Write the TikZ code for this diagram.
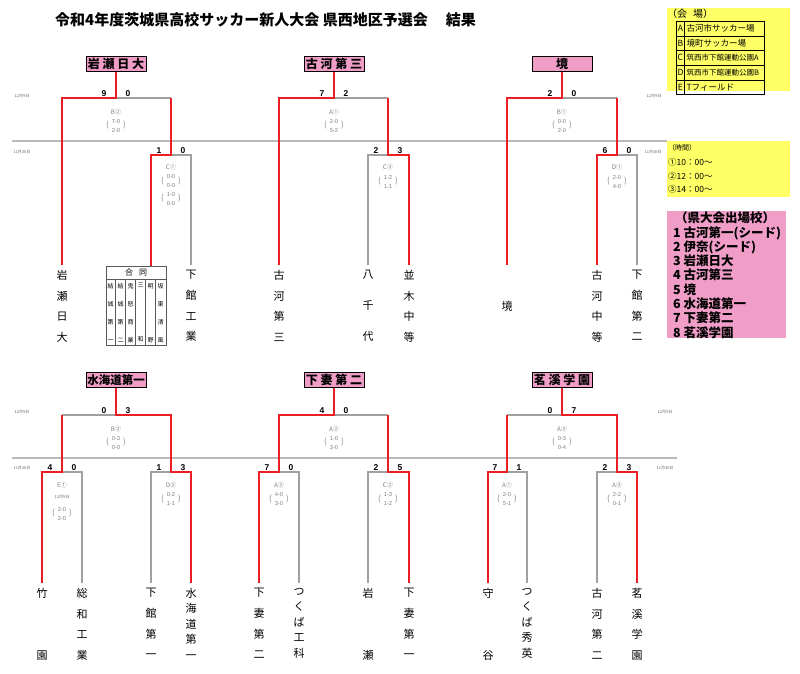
\documentclass[tikz,border=0pt]{standalone}
\usepackage{fontspec}
\setmainfont{Noto Sans CJK JP}
\newfontfamily\num{Liberation Sans}
\usetikzlibrary{positioning}
\definecolor{winred}{RGB}{235,30,35}
\definecolor{losegray}{RGB}{160,160,160}
\definecolor{boxpink}{RGB}{240,158,200}
\definecolor{noteyellow}{RGB}{255,255,102}
\newcommand{\fsz}[2]{\fontsize{#1}{#2}\selectfont}
\newcommand{\gp}{\phantom{中}}
\newcommand{\matchres}[2]{{\fsz{8}{8}(}\hspace{3pt}{\num\fsz{5.8}{8.6}\begin{tabular}{@{}c@{}}#1\\#2\end{tabular}}\hspace{3pt}{\fsz{8}{8})}}
\tikzset{
win/.style={draw=winred, line width=1.6pt}, % path of the team that won
lose/.style={draw=losegray, line width=1.2pt}, % path of the team that lost
champ/.style={draw, line width=1pt, fill=boxpink, minimum width=60pt, minimum height=15pt, inner sep=1pt, font=\bfseries\fsz{12}{12}}, % block winner
team/.style={anchor=north, inner xsep=0pt, inner ysep=5pt, align=center}, % school names, read top to bottom
team4/.style={team, font=\fsz{11}{20.7}},
team5/.style={team, font=\fsz{11}{15.5}},
score/.style={anchor=base, inner sep=0pt, font=\num\bfseries\fsz{8.5}{8.5}},
info/.style={inner sep=0pt, text=gray, font=\fsz{6.2}{6.8}}, % ground, kick-off and half scores
date/.style={inner sep=0pt, text=gray!80!black, font=\fsz{4}{4}},
sepline/.style={draw=gray!55, line width=1.2pt},
}

\begin{document}
\begin{tikzpicture}[x=1pt, y=-1pt]
    \useasboundingbox (0,0) rectangle (800,673);

    \node[anchor=west, inner sep=0pt, font=\bfseries\fsz{15}{15}] (title) at (55,20)
    {令和4年度茨城県高校サッカー新人大会 県西地区予選会\hspace{1.2em}結果};

    % legend boxes
    \node[fill=noteyellow, anchor=north west, minimum width=123pt, minimum height=83pt, inner sep=0pt] (venuebg) at (667,8) {};
    \node[anchor=west, inner sep=0pt, font=\fsz{10}{10}] (venuehead) at (667,14) {（会\hspace{0.6em}場）};
    \setlength{\arrayrulewidth}{0.6pt}
    \node[anchor=north west, inner sep=0pt, font=\fsz{8.5}{14}] (venue) at (676,21) {%
    \begin{tabular}{|@{\hspace{1pt}}c@{\hspace{1pt}}|@{\hspace{2pt}}p{78pt}@{}|}\hline
    A & 古河市サッカー場\\\hline
    B & 境町サッカー場\\\hline
    C & {\fsz{7.5}{14}筑西市下館運動公園A}\\\hline
    D & {\fsz{7.5}{14}筑西市下館運動公園B}\\\hline
    E & Tフィールド\\\hline
    \end{tabular}};

    \node[fill=noteyellow, anchor=north west, minimum width=123pt, minimum height=56pt, inner sep=0pt] (timebg) at (667,141) {};
    \node[anchor=west, inner sep=0pt, font=\fsz{7}{7}] (timehead) at (668,148) {（時間）};
    \node[anchor=west, inner sep=0pt, font=\fsz{8.5}{8.5}] (time1) at (668,162) {①10：00～};
    \node[anchor=west, inner sep=0pt, font=\fsz{8.5}{8.5}] (time2) at (668,176) {②12：00～};
    \node[anchor=west, inner sep=0pt, font=\fsz{8.5}{8.5}] (time3) at (668,189.5) {③14：00～};

    \node[fill=boxpink, anchor=north west, minimum width=119pt, minimum height=127pt, inner sep=0pt] (entrybg) at (667,211) {};
    \node[inner sep=0pt, font=\bfseries\fsz{12.5}{12.5}] (entryhead) at (725,218) {（県大会出場校）};
    \node[anchor=north west, inner sep=0pt, align=left, font=\bfseries\fsz{12.5}{14.3}] (entries) at (673,226)
    {1 古河第一(シード)\\2 伊奈(シード)\\3 岩瀬日大\\4 古河第三\\5 境\\6 水海道第一\\7 下妻第二\\8 茗溪学園};

    % day lines
    \draw[sepline] (12,141) -- (timebg.north west);
    \draw[sepline] (12,458) -- (677,458);
    \node[date] (d1) at (22,96) {12月9日};
    \node[date] (d2) at (22,152) {11月30日};
    \node[date] (d3) at (654,96) {12月9日};
    \node[date] (d4) at (653,152) {11月30日};
    \node[date] (d5) at (22,412) {12月9日};
    \node[date] (d6) at (22,468) {11月30日};
    \node[date] (d7) at (665,412) {12月9日};
    \node[date] (d8) at (665,468) {11月30日};

    % block winners
    \node[champ] (w1) at (116,63.5) {岩 瀬 日 大};
    \node[champ] (w2) at (334,63.5) {古 河 第 三};
    \node[champ] (w3) at (562,63.5) {境};
    \node[champ, font=\bfseries\fsz{11.5}{11.5}] (w4) at (116,380) {水海道第一};
    \node[champ] (w5) at (334,380) {下 妻 第 二};
    \node[champ] (w6) at (562,380) {茗 溪 学 園};

    % schools, upper half
    \node[team4] (iwasenichidai) at (62,265) {岩\\瀬\\日\\大};
    \node[draw=gray!70!black, line width=0.8pt, anchor=north, minimum width=60pt, minimum height=79pt, inner sep=0pt] (godo) at (136,266) {};
    \draw[gray!70!black, line width=0.6pt] ([yshift=-13pt]godo.north west) -- ([yshift=-13pt]godo.north east);
    \foreach \i in {1,...,5}
        \draw[gray!70!black, line width=0.6pt] ([xshift=\i*10pt, yshift=-13pt]godo.north west) -- ([xshift=\i*10pt]godo.south west);
    \node[inner sep=0pt, font=\fsz{8}{8}] (godo-head) at ([yshift=-6.5pt]godo.north) {合\hspace{6pt}同};
    \foreach \c [count=\i] in {{結\\城\\第\\一}, {結\\城\\第\\二}, {鬼\\怒\\商\\業}, {三\\\gp\\\gp\\和}, {明\\\gp\\\gp\\野}, {坂\\東\\清\\風}}
        \node[anchor=north, inner sep=0pt, align=center, font=\fsz{6}{18}] (godo-\i) at ([xshift=\i*10pt-5pt, yshift=-17.3pt]godo.north west) {\c};
    \node[team4] (shimokanko) at (191,265) {下\\館\\工\\業};
    \node[team4] (koga3) at (279,265) {古\\河\\第\\三};
    \node[team5] (yachiyo) at (368,265) {八\\\gp\\千\\\gp\\代};
    \node[team4] (namiki) at (409,265) {並\\木\\中\\等};
    \node[team5] (sakai) at (507,265) {\gp\\\gp\\境};
    \node[team4] (kogachu) at (597,265) {古\\河\\中\\等};
    \node[team4] (shimokan2) at (637,265) {下\\館\\第\\二};

    % schools, lower half
    \node[team4] (takezono) at (42,583) {竹\\\gp\\\gp\\園};
    \node[team4] (sowa) at (82,583) {総\\和\\工\\業};
    \node[team4] (shimokan1) at (151,583) {下\\館\\第\\一};
    \node[team5] (mitsukaido) at (191,583) {水\\海\\道\\第\\一};
    \node[team4] (shimotsuma2) at (259,583) {下\\妻\\第\\二};
    \node[team5] (tsukubakoka) at (299,583) {つ\\く\\ば\\工\\科};
    \node[team4] (iwase) at (368,583) {岩\\\gp\\\gp\\瀬};
    \node[team4] (shimotsuma1) at (409,583) {下\\妻\\第\\一};
    \node[team4] (moriya) at (488,583) {守\\\gp\\\gp\\谷};
    \node[team5] (tsukubashuei) at (527,583) {つ\\く\\ば\\秀\\英};
    \node[team4] (koga2) at (597,583) {古\\河\\第\\二};
    \node[team4] (meikei) at (637,583) {茗\\溪\\学\\園};

    % bracket corners
    \coordinate (j1) at (116,98);  \coordinate (l1) at (62,98);  \coordinate (r1) at (171,98);
    \coordinate (s1) at (171,155); \coordinate (s1l) at (151,155); \coordinate (s1r) at (191,155);
    \coordinate (j2) at (334,98);  \coordinate (l2) at (279,98); \coordinate (r2) at (388,98);
    \coordinate (s2) at (388,155); \coordinate (s2l) at (368,155); \coordinate (s2r) at (409,155);
    \coordinate (j3) at (562,98);  \coordinate (l3) at (507,98); \coordinate (r3) at (617,98);
    \coordinate (s3) at (617,155); \coordinate (s3l) at (597,155); \coordinate (s3r) at (637,155);
    \coordinate (j4) at (116,415); \coordinate (l4) at (62,415);  \coordinate (r4) at (171,415);
    \coordinate (s4a) at (62,472); \coordinate (s4al) at (42,472); \coordinate (s4ar) at (82,472);
    \coordinate (s4b) at (171,472); \coordinate (s4bl) at (151,472); \coordinate (s4br) at (191,472);
    \coordinate (j5) at (334,415); \coordinate (l5) at (279,415); \coordinate (r5) at (388,415);
    \coordinate (s5a) at (279,472); \coordinate (s5al) at (259,472); \coordinate (s5ar) at (299,472);
    \coordinate (s5b) at (388,472); \coordinate (s5bl) at (368,472); \coordinate (s5br) at (409,472);
    \coordinate (j6) at (562,415); \coordinate (l6) at (507,415); \coordinate (r6) at (617,415);
    \coordinate (s6a) at (507,472); \coordinate (s6al) at (488,472); \coordinate (s6ar) at (527,472);
    \coordinate (s6b) at (617,472); \coordinate (s6bl) at (597,472); \coordinate (s6br) at (637,472);

    % losers first, winners on top
    \draw[lose] (j1) -- (r1);
    \draw[lose] (s1) -- (s1r) -- (shimokanko.north);
    \draw[lose] (j2) -- (r2);
    \draw[lose] (s2) -- (s2l) -- (yachiyo.north);
    \draw[lose] (j3) -- (r3);
    \draw[lose] (s3) -- (s3r) -- (shimokan2.north);
    \draw[lose] (j4) -- (l4);
    \draw[lose] (s4a) -- (s4ar) -- (sowa.north);
    \draw[lose] (s4b) -- (s4bl) -- (shimokan1.north);
    \draw[lose] (j5) -- (r5);
    \draw[lose] (s5a) -- (s5ar) -- (tsukubakoka.north);
    \draw[lose] (s5b) -- (s5bl) -- (iwase.north);
    \draw[lose] (j6) -- (l6);
    \draw[lose] (s6a) -- (s6ar) -- (tsukubashuei.north);
    \draw[lose] (s6b) -- (s6bl) -- (koga2.north);

    \draw[win] (w1.south) -- (j1) -- (l1) -- (iwasenichidai.north);
    \draw[win] (r1) -- (s1) -- (s1l) -- (s1l |- godo.north);
    \draw[win] (w2.south) -- (j2) -- (l2) -- (koga3.north);
    \draw[win] (r2) -- (s2) -- (s2r) -- (namiki.north);
    \draw[win] (w3.south) -- (j3) -- (l3) -- (sakai.north);
    \draw[win] (r3) -- (s3) -- (s3l) -- (kogachu.north);
    \draw[win] (w4.south) -- (j4) -- (r4) -- (s4b) -- (s4br) -- (mitsukaido.north);
    \draw[win] (l4) -- (s4a) -- (s4al) -- (takezono.north);
    \draw[win] (w5.south) -- (j5) -- (l5) -- (s5a) -- (s5al) -- (shimotsuma2.north);
    \draw[win] (r5) -- (s5b) -- (s5br) -- (shimotsuma1.north);
    \draw[win] (w6.south) -- (j6) -- (r6) -- (s6b) -- (s6br) -- (meikei.north);
    \draw[win] (l6) -- (s6a) -- (s6al) -- (moriya.north);

    % scores
    \foreach \n/\x/\y/\a/\b in {a/116/98/9/0, b/171/155/1/0, c/334/98/7/2, d/388/155/2/3, e/562/98/2/0, f/617/155/6/0,
        g/116/415/0/3, h/62/472/4/0, i/171/472/1/3, j/334/415/4/0, k/279/472/7/0, l/388/472/2/5, m/562/415/0/7, n/507/472/7/1, o/617/472/2/3} {
        \node[score] (sc\n-l) at (\x-12,\y-1.5) {\a};
        \node[score] (sc\n-r) at (\x+12,\y-1.5) {\b};
    }

    % match details
    \node[info] (m1) at (116,112) {B②};
    \node[info] (m1r) at (116,126) {\matchres{7-0}{2-0}};
    \node[info] (m2) at (171,167.5) {C①};
    \node[info] (m2r) at (171,181.5) {\matchres{0-0}{0-0}};
    \node[info] (m2p) at (171,199) {\matchres{1-0}{0-0}};
    \node[info] (m3) at (334,112) {A①};
    \node[info] (m3r) at (334,126) {\matchres{2-0}{5-2}};
    \node[info] (m4) at (388,167.5) {C③};
    \node[info] (m4r) at (388,182) {\matchres{1-2}{1-1}};
    \node[info] (m5) at (562,112) {B①};
    \node[info] (m5r) at (562,126) {\matchres{0-0}{2-0}};
    \node[info] (m6) at (617,167.5) {D①};
    \node[info] (m6r) at (617,182) {\matchres{2-0}{4-0}};

    \node[info] (m7) at (116,429) {B③};
    \node[info] (m7r) at (116,443) {\matchres{0-3}{0-0}};
    \node[info] (m8) at (62,485) {E①};
    \node[date] (m8d) at (62,497) {12月5日};
    \node[info] (m8r) at (62,514) {\matchres{2-0}{2-0}};
    \node[info] (m9) at (171,485) {D②};
    \node[info] (m9r) at (171,499.5) {\matchres{0-2}{1-1}};
    \node[info] (m10) at (334,429) {A②};
    \node[info] (m10r) at (334,443) {\matchres{1-0}{3-0}};
    \node[info] (m11) at (279,485) {A②};
    \node[info] (m11r) at (279,499.5) {\matchres{4-0}{3-0}};
    \node[info] (m12) at (388,485) {C②};
    \node[info] (m12r) at (388,499.5) {\matchres{1-3}{1-2}};
    \node[info] (m13) at (562,429) {A③};
    \node[info] (m13r) at (562,443) {\matchres{0-3}{0-4}};
    \node[info] (m14) at (507,485) {A①};
    \node[info] (m14r) at (507,499.5) {\matchres{2-0}{5-1}};
    \node[info] (m15) at (617,485) {A③};
    \node[info] (m15r) at (617,499.5) {\matchres{2-2}{0-1}};
\end{tikzpicture}
\end{document}
